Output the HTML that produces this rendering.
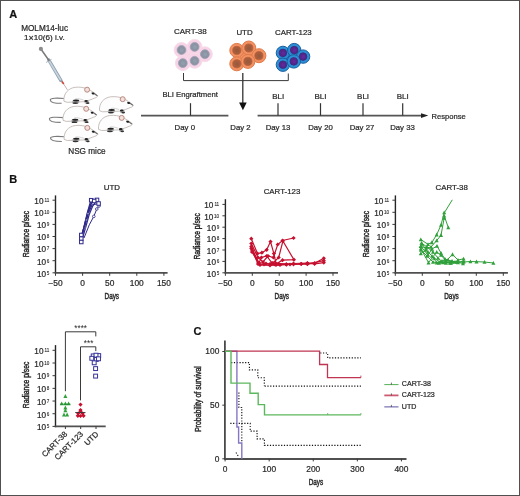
<!DOCTYPE html>
<html><head><meta charset="utf-8"><style>
html,body{margin:0;padding:0;background:#fff;}
svg{display:block;font-family:"Liberation Sans",sans-serif;-webkit-font-smoothing:antialiased;will-change:transform;}
text{stroke:#2a2a2a;stroke-width:0.22px;}
</style></head><body>
<svg width="520" height="496" viewBox="0 0 520 496">
<rect width="520" height="496" fill="#fff"/>
<rect x="0.5" y="0.5" width="519" height="495" fill="none" stroke="#505050" stroke-width="1"/>
<text x="9.20" y="17.60" font-size="11" text-anchor="start" font-weight="bold" fill="#111" >A</text>
<text x="44.60" y="30.90" font-size="8.2" text-anchor="middle" font-weight="normal" fill="#2a2a2a" >MOLM14-luc</text>
<text x="44.40" y="39.90" font-size="8.1" text-anchor="middle" font-weight="normal" fill="#2a2a2a" >1<tspan font-size="9" dy="1.2">×</tspan><tspan dy="-1.2">10(6) i.v.</tspan></text>
<g stroke-linecap="round">
<line x1="63.00" y1="83.00" x2="67.20" y2="89.50" stroke="#b09090" stroke-width="0.7" />
<line x1="60.60" y1="79.80" x2="63.40" y2="83.40" stroke="#d04838" stroke-width="1.7" />
<line x1="48.80" y1="60.00" x2="60.80" y2="80.30" stroke="#8fa0ae" stroke-width="3.4" />
<line x1="49.00" y1="60.60" x2="60.40" y2="79.60" stroke="#c6d4de" stroke-width="1.8" />
<line x1="46.40" y1="62.30" x2="51.20" y2="59.50" stroke="#a9b9c6" stroke-width="1.0" />
<line x1="40.90" y1="49.00" x2="49.00" y2="60.50" stroke="#7a7a7a" stroke-width="1.5" />
<circle cx="40.9" cy="48.9" r="2.1" fill="#8c8c8c"/>
</g>
<defs><path id="tail" d="M-22.5,8.8 C-30,8.2 -36.8,8.2 -36.8,10.2 C-36.8,12.6 -31,13.6 -25.5,13.6" fill="none" stroke="#7a7a7a" stroke-width="1.1"/>
<g id="mouse">
<path d="M-23.2,11.5 C-23.8,4 -19,-1.5 -12,-2.4 C-7,-3 -3,-2 0,-1 C4,1 8,3.5 10.5,5.8 C10.8,7.2 9,8 7.5,8.4 C5,9.5 1,11 -3,12 L-20,12.6 Z" fill="#fdfdfd" stroke="#c2b8b4" stroke-width="0.9"/>
<path d="M-12,9.3 C-9,8.3 -6,9.8 -3.5,10.3" fill="none" stroke="#c0c0c0" stroke-width="0.7"/>
<path d="M4.5,3.2 C7,3.8 9,5 10.3,6.2" fill="none" stroke="#666" stroke-width="1.1"/>
<ellipse cx="6" cy="3.9" rx="1.3" ry="1.0" fill="#1a1a1a"/>
<ellipse cx="-11.3" cy="12" rx="3.6" ry="1.9" fill="#b0b0b0"/>
<ellipse cx="-11.0" cy="10.9" rx="3.2" ry="1.0" fill="#222"/>
<ellipse cx="-11.8" cy="13.4" rx="2.9" ry="0.9" fill="#333"/>
<ellipse cx="-0.4" cy="12.2" rx="2.4" ry="1.9" fill="#b0b0b0"/>
<ellipse cx="-1.0" cy="11.3" rx="1.8" ry="1.1" fill="#222"/>
<ellipse cx="0.6" cy="13.4" rx="1.8" ry="0.9" fill="#333"/>
<circle cx="0" cy="0" r="2.5" fill="#f3e0dc" stroke="#b88a80" stroke-width="1"/>
</g></defs>
<use href="#mouse" x="122.7" y="99.2"/>
<use href="#mouse" x="121.7" y="117.9"/>
<use href="#tail" x="87.1" y="89.7"/>
<use href="#mouse" x="87.1" y="89.7"/>
<use href="#tail" x="86.2" y="108.8"/>
<use href="#mouse" x="86.2" y="108.8"/>
<use href="#tail" x="87.3" y="127.9"/>
<use href="#mouse" x="87.3" y="127.9"/>
<text x="86.90" y="153.50" font-size="8.2" text-anchor="middle" font-weight="normal" fill="#2a2a2a" >NSG mice</text>
<circle cx="191.68" cy="55.00" r="6.66" fill="#f8d2e5"/>
<circle cx="181.5" cy="50" r="7.4" fill="#f8d2e5" stroke="#f6dcea" stroke-width="1.0"/>
<circle cx="194.6" cy="46.9" r="7.4" fill="#f8d2e5" stroke="#f6dcea" stroke-width="1.0"/>
<circle cx="204.9" cy="54.2" r="7.4" fill="#f8d2e5" stroke="#f6dcea" stroke-width="1.0"/>
<circle cx="182.8" cy="63.1" r="7.4" fill="#f8d2e5" stroke="#f6dcea" stroke-width="1.0"/>
<circle cx="194.6" cy="60.8" r="7.4" fill="#f8d2e5" stroke="#f6dcea" stroke-width="1.0"/>
<circle cx="181.5" cy="50" r="4.4" fill="#8b93a4" stroke="#9aa0b0" stroke-width="0.8"/>
<circle cx="181.8" cy="50.2" r="1.9800000000000002" fill="#8f9eaa"/>
<circle cx="194.6" cy="46.9" r="4.4" fill="#8b93a4" stroke="#9aa0b0" stroke-width="0.8"/>
<circle cx="194.9" cy="47.1" r="1.9800000000000002" fill="#8f9eaa"/>
<circle cx="204.9" cy="54.2" r="4.4" fill="#8b93a4" stroke="#9aa0b0" stroke-width="0.8"/>
<circle cx="205.20000000000002" cy="54.400000000000006" r="1.9800000000000002" fill="#8f9eaa"/>
<circle cx="182.8" cy="63.1" r="4.4" fill="#8b93a4" stroke="#9aa0b0" stroke-width="0.8"/>
<circle cx="183.10000000000002" cy="63.300000000000004" r="1.9800000000000002" fill="#8f9eaa"/>
<circle cx="194.6" cy="60.8" r="4.4" fill="#8b93a4" stroke="#9aa0b0" stroke-width="0.8"/>
<circle cx="194.9" cy="61.0" r="1.9800000000000002" fill="#8f9eaa"/>
<circle cx="245.84" cy="55.86" r="6.30" fill="#f29262"/>
<circle cx="236.8" cy="50.4" r="7.0" fill="#f29262" stroke="#e07a4a" stroke-width="1.0"/>
<circle cx="248.8" cy="48.0" r="7.0" fill="#f29262" stroke="#e07a4a" stroke-width="1.0"/>
<circle cx="258.9" cy="55.7" r="7.0" fill="#f29262" stroke="#e07a4a" stroke-width="1.0"/>
<circle cx="236.8" cy="63.8" r="7.0" fill="#f29262" stroke="#e07a4a" stroke-width="1.0"/>
<circle cx="247.9" cy="61.4" r="7.0" fill="#f29262" stroke="#e07a4a" stroke-width="1.0"/>
<circle cx="236.8" cy="50.4" r="4.1" fill="#a65e3d" stroke="#bf5f3a" stroke-width="0.8"/>
<circle cx="237.10000000000002" cy="50.6" r="1.845" fill="#9a5a3e"/>
<circle cx="248.8" cy="48.0" r="4.1" fill="#a65e3d" stroke="#bf5f3a" stroke-width="0.8"/>
<circle cx="249.10000000000002" cy="48.2" r="1.845" fill="#9a5a3e"/>
<circle cx="258.9" cy="55.7" r="4.1" fill="#a65e3d" stroke="#bf5f3a" stroke-width="0.8"/>
<circle cx="259.2" cy="55.900000000000006" r="1.845" fill="#9a5a3e"/>
<circle cx="236.8" cy="63.8" r="4.1" fill="#a65e3d" stroke="#bf5f3a" stroke-width="0.8"/>
<circle cx="237.10000000000002" cy="64.0" r="1.845" fill="#9a5a3e"/>
<circle cx="247.9" cy="61.4" r="4.1" fill="#a65e3d" stroke="#bf5f3a" stroke-width="0.8"/>
<circle cx="248.20000000000002" cy="61.6" r="1.845" fill="#9a5a3e"/>
<circle cx="291.38" cy="57.14" r="6.03" fill="#2a8fd6"/>
<circle cx="282.9" cy="52.9" r="6.7" fill="#2a8fd6" stroke="#1a5f9c" stroke-width="1.0"/>
<circle cx="294.2" cy="50.1" r="6.7" fill="#2a8fd6" stroke="#1a5f9c" stroke-width="1.0"/>
<circle cx="303.1" cy="56.6" r="6.7" fill="#2a8fd6" stroke="#1a5f9c" stroke-width="1.0"/>
<circle cx="282.9" cy="64.7" r="6.7" fill="#2a8fd6" stroke="#1a5f9c" stroke-width="1.0"/>
<circle cx="293.8" cy="61.4" r="6.7" fill="#2a8fd6" stroke="#1a5f9c" stroke-width="1.0"/>
<circle cx="282.9" cy="52.9" r="3.8" fill="#55268c" stroke="#3a2a7a" stroke-width="0.8"/>
<circle cx="283.2" cy="53.1" r="1.71" fill="#62299a"/>
<circle cx="294.2" cy="50.1" r="3.8" fill="#55268c" stroke="#3a2a7a" stroke-width="0.8"/>
<circle cx="294.5" cy="50.300000000000004" r="1.71" fill="#62299a"/>
<circle cx="303.1" cy="56.6" r="3.8" fill="#55268c" stroke="#3a2a7a" stroke-width="0.8"/>
<circle cx="303.40000000000003" cy="56.800000000000004" r="1.71" fill="#62299a"/>
<circle cx="282.9" cy="64.7" r="3.8" fill="#55268c" stroke="#3a2a7a" stroke-width="0.8"/>
<circle cx="283.2" cy="64.9" r="1.71" fill="#62299a"/>
<circle cx="293.8" cy="61.4" r="3.8" fill="#55268c" stroke="#3a2a7a" stroke-width="0.8"/>
<circle cx="294.1" cy="61.6" r="1.71" fill="#62299a"/>
<text x="190.35" y="33.80" font-size="8.0" text-anchor="middle" font-weight="normal" fill="#2a2a2a" >CART-38</text>
<text x="244.50" y="35.20" font-size="7.9" text-anchor="middle" font-weight="normal" fill="#2a2a2a" >UTD</text>
<text x="293.40" y="35.20" font-size="7.9" text-anchor="middle" font-weight="normal" fill="#2a2a2a" >CART-123</text>
<polyline points="183.50,73.00 183.50,80.60 288.30,80.60 288.30,73.50" fill="none" stroke="#3a3a3a" stroke-width="1" />
<line x1="242.80" y1="73.00" x2="242.80" y2="104.00" stroke="#333" stroke-width="1.3" />
<path d="M239.1,102.6 L246.7,102.6 L242.9,110.2 Z" fill="#111"/>
<line x1="141.00" y1="115.60" x2="228.40" y2="115.60" stroke="#555" stroke-width="1.6" />
<line x1="257.60" y1="115.60" x2="423.00" y2="115.60" stroke="#555" stroke-width="1.6" />
<path d="M421,113.2 L428.3,115.6 L421,118.0 Z" fill="#222"/>
<line x1="190.50" y1="103.20" x2="190.50" y2="115.60" stroke="#333" stroke-width="1.2" />
<line x1="278.00" y1="103.20" x2="278.00" y2="115.60" stroke="#333" stroke-width="1.2" />
<line x1="320.50" y1="103.20" x2="320.50" y2="115.60" stroke="#333" stroke-width="1.2" />
<line x1="363.00" y1="103.20" x2="363.00" y2="115.60" stroke="#333" stroke-width="1.2" />
<line x1="402.70" y1="103.20" x2="402.70" y2="115.60" stroke="#333" stroke-width="1.2" />
<text x="190.20" y="97.30" font-size="7.7" text-anchor="middle" font-weight="normal" fill="#2a2a2a" >BLI Engraftment</text>
<text x="278.20" y="98.70" font-size="8.0" text-anchor="middle" font-weight="normal" fill="#2a2a2a" >BLI</text>
<text x="320.40" y="98.70" font-size="8.0" text-anchor="middle" font-weight="normal" fill="#2a2a2a" >BLI</text>
<text x="363.10" y="98.70" font-size="8.0" text-anchor="middle" font-weight="normal" fill="#2a2a2a" >BLI</text>
<text x="402.70" y="98.70" font-size="8.0" text-anchor="middle" font-weight="normal" fill="#2a2a2a" >BLI</text>
<text x="184.80" y="129.50" font-size="7.8" text-anchor="middle" font-weight="normal" fill="#2a2a2a" >Day 0</text>
<text x="240.50" y="129.50" font-size="7.8" text-anchor="middle" font-weight="normal" fill="#2a2a2a" >Day 2</text>
<text x="278.00" y="129.50" font-size="7.8" text-anchor="middle" font-weight="normal" fill="#2a2a2a" >Day 13</text>
<text x="320.50" y="129.50" font-size="7.8" text-anchor="middle" font-weight="normal" fill="#2a2a2a" >Day 20</text>
<text x="362.00" y="129.50" font-size="7.8" text-anchor="middle" font-weight="normal" fill="#2a2a2a" >Day 27</text>
<text x="402.50" y="129.50" font-size="7.8" text-anchor="middle" font-weight="normal" fill="#2a2a2a" >Day 33</text>
<text x="431.50" y="118.80" font-size="7.6" text-anchor="start" font-weight="normal" fill="#2a2a2a" >Response</text>
<text x="9.20" y="182.90" font-size="11" text-anchor="start" font-weight="bold" fill="#111" >B</text>
<line x1="55.50" y1="195.40" x2="55.50" y2="273.60" stroke="#262626" stroke-width="1.4" />
<line x1="54.80" y1="272.80" x2="167.60" y2="272.80" stroke="#505050" stroke-width="1.7" />
<line x1="52.50" y1="272.80" x2="55.50" y2="272.80" stroke="#3a3a3a" stroke-width="1" />
<text x="49.30" y="274.60" font-size="4.6" text-anchor="end" fill="#2a2a2a" style="stroke-width:0.1px">5</text>
<text x="46.04" y="276.60" font-size="8.2" text-anchor="end" fill="#2a2a2a">10</text>
<line x1="52.50" y1="260.70" x2="55.50" y2="260.70" stroke="#3a3a3a" stroke-width="1" />
<text x="49.30" y="262.50" font-size="4.6" text-anchor="end" fill="#2a2a2a" style="stroke-width:0.1px">6</text>
<text x="46.04" y="264.50" font-size="8.2" text-anchor="end" fill="#2a2a2a">10</text>
<line x1="52.50" y1="248.60" x2="55.50" y2="248.60" stroke="#3a3a3a" stroke-width="1" />
<text x="49.30" y="250.40" font-size="4.6" text-anchor="end" fill="#2a2a2a" style="stroke-width:0.1px">7</text>
<text x="46.04" y="252.40" font-size="8.2" text-anchor="end" fill="#2a2a2a">10</text>
<line x1="52.50" y1="236.50" x2="55.50" y2="236.50" stroke="#3a3a3a" stroke-width="1" />
<text x="49.30" y="238.30" font-size="4.6" text-anchor="end" fill="#2a2a2a" style="stroke-width:0.1px">8</text>
<text x="46.04" y="240.30" font-size="8.2" text-anchor="end" fill="#2a2a2a">10</text>
<line x1="52.50" y1="224.40" x2="55.50" y2="224.40" stroke="#3a3a3a" stroke-width="1" />
<text x="49.30" y="226.20" font-size="4.6" text-anchor="end" fill="#2a2a2a" style="stroke-width:0.1px">9</text>
<text x="46.04" y="228.20" font-size="8.2" text-anchor="end" fill="#2a2a2a">10</text>
<line x1="52.50" y1="212.30" x2="55.50" y2="212.30" stroke="#3a3a3a" stroke-width="1" />
<text x="49.30" y="214.10" font-size="4.6" text-anchor="end" fill="#2a2a2a" style="stroke-width:0.1px">10</text>
<text x="43.48" y="216.10" font-size="8.2" text-anchor="end" fill="#2a2a2a">10</text>
<line x1="52.50" y1="200.20" x2="55.50" y2="200.20" stroke="#3a3a3a" stroke-width="1" />
<text x="49.30" y="202.00" font-size="4.6" text-anchor="end" fill="#2a2a2a" style="stroke-width:0.1px">11</text>
<text x="43.48" y="204.00" font-size="8.2" text-anchor="end" fill="#2a2a2a">10</text>
<line x1="55.50" y1="272.80" x2="55.50" y2="275.80" stroke="#3a3a3a" stroke-width="1" />
<text x="55.50" y="285.80" font-size="8.4" text-anchor="middle" font-weight="normal" fill="#2a2a2a" >−50</text>
<line x1="82.60" y1="272.80" x2="82.60" y2="275.80" stroke="#3a3a3a" stroke-width="1" />
<text x="82.60" y="285.80" font-size="8.4" text-anchor="middle" font-weight="normal" fill="#2a2a2a" >0</text>
<line x1="109.70" y1="272.80" x2="109.70" y2="275.80" stroke="#3a3a3a" stroke-width="1" />
<text x="109.70" y="285.80" font-size="8.4" text-anchor="middle" font-weight="normal" fill="#2a2a2a" >50</text>
<line x1="136.80" y1="272.80" x2="136.80" y2="275.80" stroke="#3a3a3a" stroke-width="1" />
<text x="136.80" y="285.80" font-size="8.4" text-anchor="middle" font-weight="normal" fill="#2a2a2a" >100</text>
<line x1="163.90" y1="272.80" x2="163.90" y2="275.80" stroke="#3a3a3a" stroke-width="1" />
<text x="163.90" y="285.80" font-size="8.4" text-anchor="middle" font-weight="normal" fill="#2a2a2a" >150</text>
<text x="111.85" y="189.80" font-size="7.9" text-anchor="middle" font-weight="normal" fill="#2a2a2a" >UTD</text>
<text transform="translate(28.90,234.10) rotate(-90)" font-size="8.6" text-anchor="middle" fill="#2a2a2a" textLength="46.5" lengthAdjust="spacingAndGlyphs" style="stroke-width:0.45px">Radiance p/sec</text>
<text x="111.80" y="298.6" font-size="8.8" text-anchor="middle" fill="#2a2a2a" textLength="14.5" lengthAdjust="spacingAndGlyphs" style="stroke-width:0.45px">Days</text>
<line x1="225.40" y1="199.20" x2="225.40" y2="273.60" stroke="#262626" stroke-width="1.4" />
<line x1="224.70" y1="272.80" x2="338.00" y2="272.80" stroke="#505050" stroke-width="1.7" />
<line x1="222.40" y1="272.80" x2="225.40" y2="272.80" stroke="#3a3a3a" stroke-width="1" />
<text x="219.20" y="274.60" font-size="4.6" text-anchor="end" fill="#2a2a2a" style="stroke-width:0.1px">5</text>
<text x="215.94" y="276.60" font-size="8.2" text-anchor="end" fill="#2a2a2a">10</text>
<line x1="222.40" y1="261.40" x2="225.40" y2="261.40" stroke="#3a3a3a" stroke-width="1" />
<text x="219.20" y="263.20" font-size="4.6" text-anchor="end" fill="#2a2a2a" style="stroke-width:0.1px">6</text>
<text x="215.94" y="265.20" font-size="8.2" text-anchor="end" fill="#2a2a2a">10</text>
<line x1="222.40" y1="250.00" x2="225.40" y2="250.00" stroke="#3a3a3a" stroke-width="1" />
<text x="219.20" y="251.80" font-size="4.6" text-anchor="end" fill="#2a2a2a" style="stroke-width:0.1px">7</text>
<text x="215.94" y="253.80" font-size="8.2" text-anchor="end" fill="#2a2a2a">10</text>
<line x1="222.40" y1="238.60" x2="225.40" y2="238.60" stroke="#3a3a3a" stroke-width="1" />
<text x="219.20" y="240.40" font-size="4.6" text-anchor="end" fill="#2a2a2a" style="stroke-width:0.1px">8</text>
<text x="215.94" y="242.40" font-size="8.2" text-anchor="end" fill="#2a2a2a">10</text>
<line x1="222.40" y1="227.20" x2="225.40" y2="227.20" stroke="#3a3a3a" stroke-width="1" />
<text x="219.20" y="229.00" font-size="4.6" text-anchor="end" fill="#2a2a2a" style="stroke-width:0.1px">9</text>
<text x="215.94" y="231.00" font-size="8.2" text-anchor="end" fill="#2a2a2a">10</text>
<line x1="222.40" y1="215.80" x2="225.40" y2="215.80" stroke="#3a3a3a" stroke-width="1" />
<text x="219.20" y="217.60" font-size="4.6" text-anchor="end" fill="#2a2a2a" style="stroke-width:0.1px">10</text>
<text x="213.38" y="219.60" font-size="8.2" text-anchor="end" fill="#2a2a2a">10</text>
<line x1="222.40" y1="204.40" x2="225.40" y2="204.40" stroke="#3a3a3a" stroke-width="1" />
<text x="219.20" y="206.20" font-size="4.6" text-anchor="end" fill="#2a2a2a" style="stroke-width:0.1px">11</text>
<text x="213.38" y="208.20" font-size="8.2" text-anchor="end" fill="#2a2a2a">10</text>
<line x1="225.40" y1="272.80" x2="225.40" y2="275.80" stroke="#3a3a3a" stroke-width="1" />
<text x="225.40" y="285.80" font-size="8.4" text-anchor="middle" font-weight="normal" fill="#2a2a2a" >−50</text>
<line x1="252.30" y1="272.80" x2="252.30" y2="275.80" stroke="#3a3a3a" stroke-width="1" />
<text x="252.30" y="285.80" font-size="8.4" text-anchor="middle" font-weight="normal" fill="#2a2a2a" >0</text>
<line x1="279.20" y1="272.80" x2="279.20" y2="275.80" stroke="#3a3a3a" stroke-width="1" />
<text x="279.20" y="285.80" font-size="8.4" text-anchor="middle" font-weight="normal" fill="#2a2a2a" >50</text>
<line x1="306.10" y1="272.80" x2="306.10" y2="275.80" stroke="#3a3a3a" stroke-width="1" />
<text x="306.10" y="285.80" font-size="8.4" text-anchor="middle" font-weight="normal" fill="#2a2a2a" >100</text>
<line x1="333.00" y1="272.80" x2="333.00" y2="275.80" stroke="#3a3a3a" stroke-width="1" />
<text x="333.00" y="285.80" font-size="8.4" text-anchor="middle" font-weight="normal" fill="#2a2a2a" >150</text>
<text x="282.00" y="193.70" font-size="7.9" text-anchor="middle" font-weight="normal" fill="#2a2a2a" >CART-123</text>
<text transform="translate(199.70,236.30) rotate(-90)" font-size="8.6" text-anchor="middle" fill="#2a2a2a" textLength="46.5" lengthAdjust="spacingAndGlyphs" style="stroke-width:0.45px">Radiance p/sec</text>
<text x="281.80" y="298.6" font-size="8.8" text-anchor="middle" fill="#2a2a2a" textLength="14.5" lengthAdjust="spacingAndGlyphs" style="stroke-width:0.45px">Days</text>
<line x1="395.40" y1="195.40" x2="395.40" y2="273.60" stroke="#262626" stroke-width="1.4" />
<line x1="394.70" y1="272.80" x2="507.90" y2="272.80" stroke="#505050" stroke-width="1.7" />
<line x1="392.40" y1="272.80" x2="395.40" y2="272.80" stroke="#3a3a3a" stroke-width="1" />
<text x="389.20" y="274.60" font-size="4.6" text-anchor="end" fill="#2a2a2a" style="stroke-width:0.1px">5</text>
<text x="385.94" y="276.60" font-size="8.2" text-anchor="end" fill="#2a2a2a">10</text>
<line x1="392.40" y1="260.70" x2="395.40" y2="260.70" stroke="#3a3a3a" stroke-width="1" />
<text x="389.20" y="262.50" font-size="4.6" text-anchor="end" fill="#2a2a2a" style="stroke-width:0.1px">6</text>
<text x="385.94" y="264.50" font-size="8.2" text-anchor="end" fill="#2a2a2a">10</text>
<line x1="392.40" y1="248.60" x2="395.40" y2="248.60" stroke="#3a3a3a" stroke-width="1" />
<text x="389.20" y="250.40" font-size="4.6" text-anchor="end" fill="#2a2a2a" style="stroke-width:0.1px">7</text>
<text x="385.94" y="252.40" font-size="8.2" text-anchor="end" fill="#2a2a2a">10</text>
<line x1="392.40" y1="236.50" x2="395.40" y2="236.50" stroke="#3a3a3a" stroke-width="1" />
<text x="389.20" y="238.30" font-size="4.6" text-anchor="end" fill="#2a2a2a" style="stroke-width:0.1px">8</text>
<text x="385.94" y="240.30" font-size="8.2" text-anchor="end" fill="#2a2a2a">10</text>
<line x1="392.40" y1="224.40" x2="395.40" y2="224.40" stroke="#3a3a3a" stroke-width="1" />
<text x="389.20" y="226.20" font-size="4.6" text-anchor="end" fill="#2a2a2a" style="stroke-width:0.1px">9</text>
<text x="385.94" y="228.20" font-size="8.2" text-anchor="end" fill="#2a2a2a">10</text>
<line x1="392.40" y1="212.30" x2="395.40" y2="212.30" stroke="#3a3a3a" stroke-width="1" />
<text x="389.20" y="214.10" font-size="4.6" text-anchor="end" fill="#2a2a2a" style="stroke-width:0.1px">10</text>
<text x="383.38" y="216.10" font-size="8.2" text-anchor="end" fill="#2a2a2a">10</text>
<line x1="392.40" y1="200.20" x2="395.40" y2="200.20" stroke="#3a3a3a" stroke-width="1" />
<text x="389.20" y="202.00" font-size="4.6" text-anchor="end" fill="#2a2a2a" style="stroke-width:0.1px">11</text>
<text x="383.38" y="204.00" font-size="8.2" text-anchor="end" fill="#2a2a2a">10</text>
<line x1="395.30" y1="272.80" x2="395.30" y2="275.80" stroke="#3a3a3a" stroke-width="1" />
<text x="395.30" y="285.80" font-size="8.4" text-anchor="middle" font-weight="normal" fill="#2a2a2a" >−50</text>
<line x1="422.30" y1="272.80" x2="422.30" y2="275.80" stroke="#3a3a3a" stroke-width="1" />
<text x="422.30" y="285.80" font-size="8.4" text-anchor="middle" font-weight="normal" fill="#2a2a2a" >0</text>
<line x1="449.30" y1="272.80" x2="449.30" y2="275.80" stroke="#3a3a3a" stroke-width="1" />
<text x="449.30" y="285.80" font-size="8.4" text-anchor="middle" font-weight="normal" fill="#2a2a2a" >50</text>
<line x1="476.30" y1="272.80" x2="476.30" y2="275.80" stroke="#3a3a3a" stroke-width="1" />
<text x="476.30" y="285.80" font-size="8.4" text-anchor="middle" font-weight="normal" fill="#2a2a2a" >100</text>
<line x1="503.30" y1="272.80" x2="503.30" y2="275.80" stroke="#3a3a3a" stroke-width="1" />
<text x="503.30" y="285.80" font-size="8.4" text-anchor="middle" font-weight="normal" fill="#2a2a2a" >150</text>
<text x="451.75" y="189.80" font-size="7.9" text-anchor="middle" font-weight="normal" fill="#2a2a2a" >CART-38</text>
<text transform="translate(368.90,234.10) rotate(-90)" font-size="8.6" text-anchor="middle" fill="#2a2a2a" textLength="46.5" lengthAdjust="spacingAndGlyphs" style="stroke-width:0.45px">Radiance p/sec</text>
<text x="451.50" y="298.6" font-size="8.8" text-anchor="middle" fill="#2a2a2a" textLength="14.5" lengthAdjust="spacingAndGlyphs" style="stroke-width:0.45px">Days</text>
<polyline points="80.80,241.50 84.60,224.00 87.40,212.50 89.80,204.00 91.20,200.20" fill="none" stroke="#2f2a8a" stroke-width="1.2" />
<polyline points="81.20,238.50 85.20,222.50 88.00,211.50 90.80,203.50 94.20,201.00" fill="none" stroke="#2f2a8a" stroke-width="1.2" />
<polyline points="81.60,235.00 85.80,221.50 88.70,210.50 91.60,203.00 97.00,199.90" fill="none" stroke="#2f2a8a" stroke-width="1.2" />
<polyline points="81.40,236.50 85.50,223.50 88.60,212.80 92.00,205.00 98.60,203.50" fill="none" stroke="#2f2a8a" stroke-width="1.2" />
<polyline points="82.00,240.00 86.20,225.50 89.20,214.50 92.50,206.50 97.00,199.90" fill="none" stroke="#2f2a8a" stroke-width="1.2" />
<polyline points="84.00,238.00 89.30,224.80 93.80,216.40 96.80,209.00 99.00,206.00" fill="none" stroke="#2f2a8a" stroke-width="1.0" />
<circle cx="93.8" cy="216.4" r="1.3" fill="#fff" stroke="#2f2a8a" stroke-width="0.8"/>
<circle cx="96.8" cy="209.0" r="1.3" fill="#fff" stroke="#2f2a8a" stroke-width="0.8"/>
<circle cx="99.0" cy="206.0" r="1.3" fill="#fff" stroke="#2f2a8a" stroke-width="0.8"/>
<rect x="79.55" y="233.25" width="3.5" height="3.5" fill="#fff" stroke="#2f2a8a" stroke-width="1.0"/>
<rect x="79.55" y="236.85" width="3.5" height="3.5" fill="#fff" stroke="#2f2a8a" stroke-width="1.0"/>
<rect x="79.55" y="240.25" width="3.5" height="3.5" fill="#fff" stroke="#2f2a8a" stroke-width="1.0"/>
<rect x="89.45" y="198.45" width="3.5" height="3.5" fill="#fff" stroke="#2f2a8a" stroke-width="1.0"/>
<rect x="95.25" y="198.15" width="3.5" height="3.5" fill="#fff" stroke="#2f2a8a" stroke-width="1.0"/>
<rect x="92.45" y="199.25" width="3.5" height="3.5" fill="#fff" stroke="#2f2a8a" stroke-width="1.0"/>
<rect x="96.85" y="201.75" width="3.5" height="3.5" fill="#fff" stroke="#2f2a8a" stroke-width="1.0"/>
<rect x="85.50" y="219.20" width="1.6" height="1.6" fill="#fff" stroke="#2f2a8a" stroke-width="0.5"/>
<rect x="87.20" y="212.70" width="1.6" height="1.6" fill="#fff" stroke="#2f2a8a" stroke-width="0.5"/>
<rect x="84.00" y="227.20" width="1.6" height="1.6" fill="#fff" stroke="#2f2a8a" stroke-width="0.5"/>
<polyline points="251.30,238.70 257.50,253.60 261.90,252.70 266.70,249.80 270.50,241.60 273.90,253.60 276.00,263.50 286.30,264.50" fill="none" stroke="#c5102f" stroke-width="1.2" />
<polyline points="251.30,243.50 258.00,257.50 263.00,262.00 268.00,256.00 273.40,257.50 277.70,244.50 282.50,240.50 293.60,238.00" fill="none" stroke="#c5102f" stroke-width="1.2" />
<polyline points="251.30,246.40 258.50,262.80 266.00,263.50 275.00,264.50 282.50,260.20 293.90,259.70 282.90,241.00 278.70,257.50 273.00,263.00 286.30,264.30" fill="none" stroke="#c5102f" stroke-width="1.2" />
<polyline points="251.30,248.30 258.00,264.00 264.00,264.50 270.00,264.00 276.00,265.00 286.30,264.50 293.50,264.30 301.20,263.80 307.40,263.50 314.60,263.80 323.80,262.60" fill="none" stroke="#c5102f" stroke-width="1.2" />
<polyline points="252.00,250.00 259.00,263.00 261.40,257.50 266.70,256.00 272.00,263.00 279.00,264.00 293.50,263.50 307.40,263.00 314.60,263.20 323.80,258.30" fill="none" stroke="#c5102f" stroke-width="1.2" />
<polyline points="252.00,252.00 260.00,265.00 270.00,265.50 280.00,265.00 290.00,264.50 301.20,264.00 307.40,264.20 323.80,260.70" fill="none" stroke="#c5102f" stroke-width="1.2" />
<path d="M251.30,236.60 L253.40,238.70 L251.30,240.80 L249.20,238.70 Z" fill="#c5102f"/>
<path d="M257.50,251.50 L259.60,253.60 L257.50,255.70 L255.40,253.60 Z" fill="#c5102f"/>
<path d="M261.90,250.60 L264.00,252.70 L261.90,254.80 L259.80,252.70 Z" fill="#c5102f"/>
<path d="M266.70,247.70 L268.80,249.80 L266.70,251.90 L264.60,249.80 Z" fill="#c5102f"/>
<path d="M270.50,239.50 L272.60,241.60 L270.50,243.70 L268.40,241.60 Z" fill="#c5102f"/>
<path d="M273.90,251.50 L276.00,253.60 L273.90,255.70 L271.80,253.60 Z" fill="#c5102f"/>
<path d="M276.00,261.40 L278.10,263.50 L276.00,265.60 L273.90,263.50 Z" fill="#c5102f"/>
<path d="M286.30,262.40 L288.40,264.50 L286.30,266.60 L284.20,264.50 Z" fill="#c5102f"/>
<path d="M251.30,241.40 L253.40,243.50 L251.30,245.60 L249.20,243.50 Z" fill="#c5102f"/>
<path d="M258.00,255.40 L260.10,257.50 L258.00,259.60 L255.90,257.50 Z" fill="#c5102f"/>
<path d="M263.00,259.90 L265.10,262.00 L263.00,264.10 L260.90,262.00 Z" fill="#c5102f"/>
<path d="M268.00,253.90 L270.10,256.00 L268.00,258.10 L265.90,256.00 Z" fill="#c5102f"/>
<path d="M273.40,255.40 L275.50,257.50 L273.40,259.60 L271.30,257.50 Z" fill="#c5102f"/>
<path d="M277.70,242.40 L279.80,244.50 L277.70,246.60 L275.60,244.50 Z" fill="#c5102f"/>
<path d="M282.50,238.40 L284.60,240.50 L282.50,242.60 L280.40,240.50 Z" fill="#c5102f"/>
<path d="M293.60,235.90 L295.70,238.00 L293.60,240.10 L291.50,238.00 Z" fill="#c5102f"/>
<path d="M251.30,244.30 L253.40,246.40 L251.30,248.50 L249.20,246.40 Z" fill="#c5102f"/>
<path d="M258.50,260.70 L260.60,262.80 L258.50,264.90 L256.40,262.80 Z" fill="#c5102f"/>
<path d="M266.00,261.40 L268.10,263.50 L266.00,265.60 L263.90,263.50 Z" fill="#c5102f"/>
<path d="M275.00,262.40 L277.10,264.50 L275.00,266.60 L272.90,264.50 Z" fill="#c5102f"/>
<path d="M282.50,258.10 L284.60,260.20 L282.50,262.30 L280.40,260.20 Z" fill="#c5102f"/>
<path d="M293.90,257.60 L296.00,259.70 L293.90,261.80 L291.80,259.70 Z" fill="#c5102f"/>
<path d="M282.90,238.90 L285.00,241.00 L282.90,243.10 L280.80,241.00 Z" fill="#c5102f"/>
<path d="M278.70,255.40 L280.80,257.50 L278.70,259.60 L276.60,257.50 Z" fill="#c5102f"/>
<path d="M273.00,260.90 L275.10,263.00 L273.00,265.10 L270.90,263.00 Z" fill="#c5102f"/>
<path d="M286.30,262.20 L288.40,264.30 L286.30,266.40 L284.20,264.30 Z" fill="#c5102f"/>
<path d="M251.30,246.20 L253.40,248.30 L251.30,250.40 L249.20,248.30 Z" fill="#c5102f"/>
<path d="M258.00,261.90 L260.10,264.00 L258.00,266.10 L255.90,264.00 Z" fill="#c5102f"/>
<path d="M264.00,262.40 L266.10,264.50 L264.00,266.60 L261.90,264.50 Z" fill="#c5102f"/>
<path d="M270.00,261.90 L272.10,264.00 L270.00,266.10 L267.90,264.00 Z" fill="#c5102f"/>
<path d="M276.00,262.90 L278.10,265.00 L276.00,267.10 L273.90,265.00 Z" fill="#c5102f"/>
<path d="M286.30,262.40 L288.40,264.50 L286.30,266.60 L284.20,264.50 Z" fill="#c5102f"/>
<path d="M293.50,262.20 L295.60,264.30 L293.50,266.40 L291.40,264.30 Z" fill="#c5102f"/>
<path d="M301.20,261.70 L303.30,263.80 L301.20,265.90 L299.10,263.80 Z" fill="#c5102f"/>
<path d="M307.40,261.40 L309.50,263.50 L307.40,265.60 L305.30,263.50 Z" fill="#c5102f"/>
<path d="M314.60,261.70 L316.70,263.80 L314.60,265.90 L312.50,263.80 Z" fill="#c5102f"/>
<path d="M323.80,260.50 L325.90,262.60 L323.80,264.70 L321.70,262.60 Z" fill="#c5102f"/>
<path d="M252.00,247.90 L254.10,250.00 L252.00,252.10 L249.90,250.00 Z" fill="#c5102f"/>
<path d="M259.00,260.90 L261.10,263.00 L259.00,265.10 L256.90,263.00 Z" fill="#c5102f"/>
<path d="M261.40,255.40 L263.50,257.50 L261.40,259.60 L259.30,257.50 Z" fill="#c5102f"/>
<path d="M266.70,253.90 L268.80,256.00 L266.70,258.10 L264.60,256.00 Z" fill="#c5102f"/>
<path d="M272.00,260.90 L274.10,263.00 L272.00,265.10 L269.90,263.00 Z" fill="#c5102f"/>
<path d="M279.00,261.90 L281.10,264.00 L279.00,266.10 L276.90,264.00 Z" fill="#c5102f"/>
<path d="M293.50,261.40 L295.60,263.50 L293.50,265.60 L291.40,263.50 Z" fill="#c5102f"/>
<path d="M307.40,260.90 L309.50,263.00 L307.40,265.10 L305.30,263.00 Z" fill="#c5102f"/>
<path d="M314.60,261.10 L316.70,263.20 L314.60,265.30 L312.50,263.20 Z" fill="#c5102f"/>
<path d="M323.80,256.20 L325.90,258.30 L323.80,260.40 L321.70,258.30 Z" fill="#c5102f"/>
<path d="M252.00,249.90 L254.10,252.00 L252.00,254.10 L249.90,252.00 Z" fill="#c5102f"/>
<path d="M260.00,262.90 L262.10,265.00 L260.00,267.10 L257.90,265.00 Z" fill="#c5102f"/>
<path d="M270.00,263.40 L272.10,265.50 L270.00,267.60 L267.90,265.50 Z" fill="#c5102f"/>
<path d="M280.00,262.90 L282.10,265.00 L280.00,267.10 L277.90,265.00 Z" fill="#c5102f"/>
<path d="M290.00,262.40 L292.10,264.50 L290.00,266.60 L287.90,264.50 Z" fill="#c5102f"/>
<path d="M301.20,261.90 L303.30,264.00 L301.20,266.10 L299.10,264.00 Z" fill="#c5102f"/>
<path d="M307.40,262.10 L309.50,264.20 L307.40,266.30 L305.30,264.20 Z" fill="#c5102f"/>
<path d="M323.80,258.60 L325.90,260.70 L323.80,262.80 L321.70,260.70 Z" fill="#c5102f"/>
<polyline points="420.80,239.50 428.00,244.30 431.90,242.40 436.70,234.70 441.00,225.00 444.20,212.50" fill="none" stroke="#30a03a" stroke-width="1.0" />
<polyline points="420.80,246.30 426.00,248.00 431.00,247.00 436.70,240.50 441.00,235.20 444.20,218.00" fill="none" stroke="#30a03a" stroke-width="1.0" />
<polyline points="444.20,215.80 448.30,227.50" fill="none" stroke="#30a03a" stroke-width="1.0" />
<polyline points="420.80,248.70 428.50,262.60 436.70,252.00 441.00,255.00 446.00,261.00 452.50,254.40 458.00,260.00 463.60,258.80" fill="none" stroke="#30a03a" stroke-width="1.0" />
<polyline points="420.80,253.50 426.00,250.00 432.00,256.00 436.70,262.60 442.00,261.00 448.00,260.00 455.00,262.00 463.60,262.00 470.40,261.50 476.50,261.70 484.50,262.00 493.40,263.00" fill="none" stroke="#30a03a" stroke-width="1.0" />
<polyline points="422.00,244.00 428.00,252.00 434.00,258.00 440.00,262.00 446.00,263.00 452.00,261.00 458.00,262.50 463.60,261.00" fill="none" stroke="#30a03a" stroke-width="1.0" />
<polyline points="421.00,250.00 427.00,256.00 433.00,262.00 439.00,263.00 445.00,262.00 451.00,263.00 457.00,262.00 463.00,263.50" fill="none" stroke="#30a03a" stroke-width="1.0" />
<polyline points="420.80,246.30 428.00,255.00 432.00,249.00 437.00,246.00 441.00,253.00 445.00,259.00 452.00,262.00" fill="none" stroke="#30a03a" stroke-width="1.0" />
<polyline points="421.50,243.00 427.00,247.00 433.00,252.00 438.00,258.00 443.00,262.50 450.00,263.00" fill="none" stroke="#30a03a" stroke-width="1.0" />
<line x1="444.20" y1="213.00" x2="452.30" y2="199.80" stroke="#30a03a" stroke-width="1.0" />
<path d="M420.80,237.40 L422.80,241.30 L418.80,241.30 Z" fill="#30a03a"/>
<path d="M428.00,242.20 L430.00,246.10 L426.00,246.10 Z" fill="#30a03a"/>
<path d="M431.90,240.30 L433.90,244.20 L429.90,244.20 Z" fill="#30a03a"/>
<path d="M436.70,232.60 L438.70,236.50 L434.70,236.50 Z" fill="#30a03a"/>
<path d="M441.00,222.90 L443.00,226.80 L439.00,226.80 Z" fill="#30a03a"/>
<path d="M444.20,210.40 L446.20,214.30 L442.20,214.30 Z" fill="#30a03a"/>
<path d="M420.80,244.20 L422.80,248.10 L418.80,248.10 Z" fill="#30a03a"/>
<path d="M426.00,245.90 L428.00,249.80 L424.00,249.80 Z" fill="#30a03a"/>
<path d="M431.00,244.90 L433.00,248.80 L429.00,248.80 Z" fill="#30a03a"/>
<path d="M436.70,238.40 L438.70,242.30 L434.70,242.30 Z" fill="#30a03a"/>
<path d="M441.00,233.10 L443.00,237.00 L439.00,237.00 Z" fill="#30a03a"/>
<path d="M444.20,215.90 L446.20,219.80 L442.20,219.80 Z" fill="#30a03a"/>
<path d="M444.20,213.70 L446.20,217.60 L442.20,217.60 Z" fill="#30a03a"/>
<path d="M448.30,225.40 L450.30,229.30 L446.30,229.30 Z" fill="#30a03a"/>
<path d="M420.80,246.60 L422.80,250.50 L418.80,250.50 Z" fill="#30a03a"/>
<path d="M428.50,260.50 L430.50,264.40 L426.50,264.40 Z" fill="#30a03a"/>
<path d="M436.70,249.90 L438.70,253.80 L434.70,253.80 Z" fill="#30a03a"/>
<path d="M441.00,252.90 L443.00,256.80 L439.00,256.80 Z" fill="#30a03a"/>
<path d="M446.00,258.90 L448.00,262.80 L444.00,262.80 Z" fill="#30a03a"/>
<path d="M452.50,252.30 L454.50,256.20 L450.50,256.20 Z" fill="#30a03a"/>
<path d="M458.00,257.90 L460.00,261.80 L456.00,261.80 Z" fill="#30a03a"/>
<path d="M463.60,256.70 L465.60,260.60 L461.60,260.60 Z" fill="#30a03a"/>
<path d="M420.80,251.40 L422.80,255.30 L418.80,255.30 Z" fill="#30a03a"/>
<path d="M426.00,247.90 L428.00,251.80 L424.00,251.80 Z" fill="#30a03a"/>
<path d="M432.00,253.90 L434.00,257.80 L430.00,257.80 Z" fill="#30a03a"/>
<path d="M436.70,260.50 L438.70,264.40 L434.70,264.40 Z" fill="#30a03a"/>
<path d="M442.00,258.90 L444.00,262.80 L440.00,262.80 Z" fill="#30a03a"/>
<path d="M448.00,257.90 L450.00,261.80 L446.00,261.80 Z" fill="#30a03a"/>
<path d="M455.00,259.90 L457.00,263.80 L453.00,263.80 Z" fill="#30a03a"/>
<path d="M463.60,259.90 L465.60,263.80 L461.60,263.80 Z" fill="#30a03a"/>
<path d="M470.40,259.40 L472.40,263.30 L468.40,263.30 Z" fill="#30a03a"/>
<path d="M476.50,259.60 L478.50,263.50 L474.50,263.50 Z" fill="#30a03a"/>
<path d="M484.50,259.90 L486.50,263.80 L482.50,263.80 Z" fill="#30a03a"/>
<path d="M493.40,260.90 L495.40,264.80 L491.40,264.80 Z" fill="#30a03a"/>
<path d="M422.00,241.90 L424.00,245.80 L420.00,245.80 Z" fill="#30a03a"/>
<path d="M428.00,249.90 L430.00,253.80 L426.00,253.80 Z" fill="#30a03a"/>
<path d="M434.00,255.90 L436.00,259.80 L432.00,259.80 Z" fill="#30a03a"/>
<path d="M440.00,259.90 L442.00,263.80 L438.00,263.80 Z" fill="#30a03a"/>
<path d="M446.00,260.90 L448.00,264.80 L444.00,264.80 Z" fill="#30a03a"/>
<path d="M452.00,258.90 L454.00,262.80 L450.00,262.80 Z" fill="#30a03a"/>
<path d="M458.00,260.40 L460.00,264.30 L456.00,264.30 Z" fill="#30a03a"/>
<path d="M463.60,258.90 L465.60,262.80 L461.60,262.80 Z" fill="#30a03a"/>
<path d="M421.00,247.90 L423.00,251.80 L419.00,251.80 Z" fill="#30a03a"/>
<path d="M427.00,253.90 L429.00,257.80 L425.00,257.80 Z" fill="#30a03a"/>
<path d="M433.00,259.90 L435.00,263.80 L431.00,263.80 Z" fill="#30a03a"/>
<path d="M439.00,260.90 L441.00,264.80 L437.00,264.80 Z" fill="#30a03a"/>
<path d="M445.00,259.90 L447.00,263.80 L443.00,263.80 Z" fill="#30a03a"/>
<path d="M451.00,260.90 L453.00,264.80 L449.00,264.80 Z" fill="#30a03a"/>
<path d="M457.00,259.90 L459.00,263.80 L455.00,263.80 Z" fill="#30a03a"/>
<path d="M463.00,261.40 L465.00,265.30 L461.00,265.30 Z" fill="#30a03a"/>
<path d="M420.80,244.20 L422.80,248.10 L418.80,248.10 Z" fill="#30a03a"/>
<path d="M428.00,252.90 L430.00,256.80 L426.00,256.80 Z" fill="#30a03a"/>
<path d="M432.00,246.90 L434.00,250.80 L430.00,250.80 Z" fill="#30a03a"/>
<path d="M437.00,243.90 L439.00,247.80 L435.00,247.80 Z" fill="#30a03a"/>
<path d="M441.00,250.90 L443.00,254.80 L439.00,254.80 Z" fill="#30a03a"/>
<path d="M445.00,256.90 L447.00,260.80 L443.00,260.80 Z" fill="#30a03a"/>
<path d="M452.00,259.90 L454.00,263.80 L450.00,263.80 Z" fill="#30a03a"/>
<path d="M421.50,240.90 L423.50,244.80 L419.50,244.80 Z" fill="#30a03a"/>
<path d="M427.00,244.90 L429.00,248.80 L425.00,248.80 Z" fill="#30a03a"/>
<path d="M433.00,249.90 L435.00,253.80 L431.00,253.80 Z" fill="#30a03a"/>
<path d="M438.00,255.90 L440.00,259.80 L436.00,259.80 Z" fill="#30a03a"/>
<path d="M443.00,260.40 L445.00,264.30 L441.00,264.30 Z" fill="#30a03a"/>
<path d="M450.00,260.90 L452.00,264.80 L448.00,264.80 Z" fill="#30a03a"/>
<line x1="55.50" y1="345.10" x2="55.50" y2="427.20" stroke="#262626" stroke-width="1.4" />
<line x1="54.80" y1="426.40" x2="105.70" y2="426.40" stroke="#505050" stroke-width="1.7" />
<line x1="52.50" y1="426.40" x2="55.50" y2="426.40" stroke="#3a3a3a" stroke-width="1" />
<text x="49.30" y="428.20" font-size="4.6" text-anchor="end" fill="#2a2a2a" style="stroke-width:0.1px">5</text>
<text x="46.04" y="430.20" font-size="8.2" text-anchor="end" fill="#2a2a2a">10</text>
<line x1="52.50" y1="413.72" x2="55.50" y2="413.72" stroke="#3a3a3a" stroke-width="1" />
<text x="49.30" y="415.52" font-size="4.6" text-anchor="end" fill="#2a2a2a" style="stroke-width:0.1px">6</text>
<text x="46.04" y="417.52" font-size="8.2" text-anchor="end" fill="#2a2a2a">10</text>
<line x1="52.50" y1="401.04" x2="55.50" y2="401.04" stroke="#3a3a3a" stroke-width="1" />
<text x="49.30" y="402.84" font-size="4.6" text-anchor="end" fill="#2a2a2a" style="stroke-width:0.1px">7</text>
<text x="46.04" y="404.84" font-size="8.2" text-anchor="end" fill="#2a2a2a">10</text>
<line x1="52.50" y1="388.36" x2="55.50" y2="388.36" stroke="#3a3a3a" stroke-width="1" />
<text x="49.30" y="390.16" font-size="4.6" text-anchor="end" fill="#2a2a2a" style="stroke-width:0.1px">8</text>
<text x="46.04" y="392.16" font-size="8.2" text-anchor="end" fill="#2a2a2a">10</text>
<line x1="52.50" y1="375.68" x2="55.50" y2="375.68" stroke="#3a3a3a" stroke-width="1" />
<text x="49.30" y="377.48" font-size="4.6" text-anchor="end" fill="#2a2a2a" style="stroke-width:0.1px">9</text>
<text x="46.04" y="379.48" font-size="8.2" text-anchor="end" fill="#2a2a2a">10</text>
<line x1="52.50" y1="363.00" x2="55.50" y2="363.00" stroke="#3a3a3a" stroke-width="1" />
<text x="49.30" y="364.80" font-size="4.6" text-anchor="end" fill="#2a2a2a" style="stroke-width:0.1px">10</text>
<text x="43.48" y="366.80" font-size="8.2" text-anchor="end" fill="#2a2a2a">10</text>
<line x1="52.50" y1="350.32" x2="55.50" y2="350.32" stroke="#3a3a3a" stroke-width="1" />
<text x="49.30" y="352.12" font-size="4.6" text-anchor="end" fill="#2a2a2a" style="stroke-width:0.1px">11</text>
<text x="43.48" y="354.12" font-size="8.2" text-anchor="end" fill="#2a2a2a">10</text>
<line x1="65.40" y1="426.40" x2="65.40" y2="429.00" stroke="#3a3a3a" stroke-width="1" />
<line x1="80.70" y1="426.40" x2="80.70" y2="429.00" stroke="#3a3a3a" stroke-width="1" />
<line x1="96.00" y1="426.40" x2="96.00" y2="429.00" stroke="#3a3a3a" stroke-width="1" />
<text transform="translate(67.80,434.60) rotate(-45)" font-size="7.9" text-anchor="end" fill="#2a2a2a">CART-38</text>
<text transform="translate(83.60,434.60) rotate(-45)" font-size="7.9" text-anchor="end" fill="#2a2a2a">CART-123</text>
<text transform="translate(99.00,434.60) rotate(-45)" font-size="7.9" text-anchor="end" fill="#2a2a2a">UTD</text>
<text transform="translate(28.9,384.9) rotate(-90)" font-size="8.6" text-anchor="middle" fill="#2a2a2a" textLength="46.5" lengthAdjust="spacingAndGlyphs" style="stroke-width:0.45px">Radiance p/sec</text>
<polyline points="65.40,391.20 65.40,331.80 95.80,331.80 95.80,336.40" fill="none" stroke="#3a3a3a" stroke-width="1" />
<polyline points="80.50,400.40 80.50,346.80 95.80,346.80 95.80,351.10" fill="none" stroke="#3a3a3a" stroke-width="1" />
<text x="80.70" y="331.00" font-size="8.2" text-anchor="middle" font-weight="normal" fill="#2a2a2a" style="stroke:none">****</text>
<text x="88.60" y="345.90" font-size="8.2" text-anchor="middle" font-weight="normal" fill="#2a2a2a" style="stroke:none">***</text>
<path d="M65.40,394.10 L67.40,398.00 L63.40,398.00 Z" fill="#30a03a"/>
<path d="M61.70,401.40 L63.70,405.30 L59.70,405.30 Z" fill="#30a03a"/>
<path d="M65.40,401.40 L67.40,405.30 L63.40,405.30 Z" fill="#30a03a"/>
<path d="M68.60,401.40 L70.60,405.30 L66.60,405.30 Z" fill="#30a03a"/>
<path d="M65.40,405.60 L67.40,409.50 L63.40,409.50 Z" fill="#30a03a"/>
<path d="M65.40,408.30 L67.40,412.20 L63.40,412.20 Z" fill="#30a03a"/>
<path d="M64.00,412.50 L66.00,416.40 L62.00,416.40 Z" fill="#30a03a"/>
<path d="M67.10,412.50 L69.10,416.40 L65.10,416.40 Z" fill="#30a03a"/>
<line x1="60.20" y1="404.20" x2="70.50" y2="404.20" stroke="#1f8a30" stroke-width="0.9" />
<path d="M80.50,402.50 L82.60,404.60 L80.50,406.70 L78.40,404.60 Z" fill="#c5102f"/>
<path d="M80.50,407.90 L82.60,410.00 L80.50,412.10 L78.40,410.00 Z" fill="#c5102f"/>
<path d="M78.20,411.40 L80.30,413.50 L78.20,415.60 L76.10,413.50 Z" fill="#c5102f"/>
<path d="M82.50,411.40 L84.60,413.50 L82.50,415.60 L80.40,413.50 Z" fill="#c5102f"/>
<path d="M77.80,413.70 L79.90,415.80 L77.80,417.90 L75.70,415.80 Z" fill="#c5102f"/>
<path d="M80.50,413.90 L82.60,416.00 L80.50,418.10 L78.40,416.00 Z" fill="#c5102f"/>
<path d="M83.60,413.70 L85.70,415.80 L83.60,417.90 L81.50,415.80 Z" fill="#c5102f"/>
<path d="M80.50,409.10 L82.60,411.20 L80.50,413.30 L78.40,411.20 Z" fill="#c5102f"/>
<line x1="75.20" y1="412.50" x2="85.50" y2="412.50" stroke="#333" stroke-width="0.9" />
<rect x="91.25" y="353.95" width="3.9" height="3.9" fill="#fff" stroke="#36339a" stroke-width="1.0"/>
<rect x="96.75" y="353.65" width="3.9" height="3.9" fill="#fff" stroke="#36339a" stroke-width="1.0"/>
<rect x="94.05" y="353.25" width="3.9" height="3.9" fill="#fff" stroke="#36339a" stroke-width="1.0"/>
<rect x="89.85" y="356.35" width="3.9" height="3.9" fill="#fff" stroke="#36339a" stroke-width="1.0"/>
<rect x="94.35" y="357.45" width="3.9" height="3.9" fill="#fff" stroke="#36339a" stroke-width="1.0"/>
<rect x="96.55" y="356.85" width="3.9" height="3.9" fill="#fff" stroke="#36339a" stroke-width="1.0"/>
<rect x="92.25" y="360.85" width="3.9" height="3.9" fill="#fff" stroke="#36339a" stroke-width="1.0"/>
<rect x="93.65" y="366.65" width="3.9" height="3.9" fill="#fff" stroke="#36339a" stroke-width="1.0"/>
<rect x="93.65" y="374.15" width="3.9" height="3.9" fill="#fff" stroke="#36339a" stroke-width="1.0"/>
<text x="193.40" y="335.10" font-size="11" text-anchor="start" font-weight="bold" fill="#111" >C</text>
<line x1="224.90" y1="340.40" x2="224.90" y2="459.60" stroke="#4a4a4a" stroke-width="1.8" />
<line x1="224.40" y1="459.00" x2="406.50" y2="459.00" stroke="#505050" stroke-width="1.8" />
<line x1="222.30" y1="458.80" x2="225.10" y2="458.80" stroke="#3a3a3a" stroke-width="1" />
<text x="219.30" y="461.70" font-size="8.4" text-anchor="end" font-weight="normal" fill="#2a2a2a" >0</text>
<line x1="222.30" y1="405.16" x2="225.10" y2="405.16" stroke="#3a3a3a" stroke-width="1" />
<text x="219.30" y="408.06" font-size="8.4" text-anchor="end" font-weight="normal" fill="#2a2a2a" >50</text>
<line x1="222.30" y1="351.51" x2="225.10" y2="351.51" stroke="#3a3a3a" stroke-width="1" />
<text x="219.30" y="354.41" font-size="8.4" text-anchor="end" font-weight="normal" fill="#2a2a2a" >100</text>
<line x1="225.10" y1="458.80" x2="225.10" y2="461.40" stroke="#3a3a3a" stroke-width="1" />
<text x="225.10" y="471.80" font-size="8.4" text-anchor="middle" font-weight="normal" fill="#2a2a2a" >0</text>
<line x1="269.18" y1="458.80" x2="269.18" y2="461.40" stroke="#3a3a3a" stroke-width="1" />
<text x="269.18" y="471.80" font-size="8.4" text-anchor="middle" font-weight="normal" fill="#2a2a2a" >100</text>
<line x1="313.26" y1="458.80" x2="313.26" y2="461.40" stroke="#3a3a3a" stroke-width="1" />
<text x="313.26" y="471.80" font-size="8.4" text-anchor="middle" font-weight="normal" fill="#2a2a2a" >200</text>
<line x1="357.34" y1="458.80" x2="357.34" y2="461.40" stroke="#3a3a3a" stroke-width="1" />
<text x="357.34" y="471.80" font-size="8.4" text-anchor="middle" font-weight="normal" fill="#2a2a2a" >300</text>
<line x1="401.42" y1="458.80" x2="401.42" y2="461.40" stroke="#3a3a3a" stroke-width="1" />
<text x="401.42" y="471.80" font-size="8.4" text-anchor="middle" font-weight="normal" fill="#2a2a2a" >400</text>
<text x="315.9" y="485.2" font-size="9" text-anchor="middle" fill="#2a2a2a" textLength="14.5" lengthAdjust="spacingAndGlyphs" style="stroke-width:0.45px">Days</text>
<text transform="translate(200.9,399.1) rotate(-90)" font-size="8.6" text-anchor="middle" fill="#2a2a2a" textLength="66" lengthAdjust="spacingAndGlyphs" style="stroke-width:0.45px">Probability of survival</text>
<polyline points="320.20,353.00 327.70,353.00 327.70,357.90 360.90,357.90" fill="none" stroke="#111" stroke-width="1.1" stroke-dasharray="1.2 1.6"/>
<polyline points="264.60,386.10 360.90,386.10" fill="none" stroke="#111" stroke-width="1.1" stroke-dasharray="1.2 1.6"/>
<polyline points="231.10,362.60 249.40,362.60 249.40,369.90 257.80,369.90 257.80,377.80 264.30,377.80 264.30,386.10" fill="none" stroke="#111" stroke-width="1.1" stroke-dasharray="1.2 1.6"/>
<polyline points="230.30,423.40 250.20,423.40 250.20,431.10 257.10,431.10 257.10,438.90 264.40,438.90 264.40,445.40 360.90,445.40" fill="none" stroke="#111" stroke-width="1.1" stroke-dasharray="1.2 1.6"/>
<polyline points="238.90,392.50 238.90,407.50 241.80,407.50 241.80,442.50" fill="none" stroke="#111" stroke-width="1.1" stroke-dasharray="1.2 1.6"/>
<polyline points="236.00,452.50 238.50,456.50" fill="none" stroke="#111" stroke-width="1.1" stroke-dasharray="1.2 1.6"/>
<polyline points="225.10,351.20 236.90,351.20 236.90,427.00 238.60,427.00 238.60,443.00 241.80,443.00 241.80,458.80" fill="none" stroke="#8577c4" stroke-width="1.4" />
<polyline points="225.10,351.20 319.60,351.20 319.60,364.50 327.50,364.50 327.50,377.60 360.90,377.60" fill="none" stroke="#bf3552" stroke-width="1.3" />
<line x1="360.90" y1="375.60" x2="360.90" y2="377.60" stroke="#bf3552" stroke-width="0.9" />
<polyline points="225.10,351.20 231.00,351.20 231.00,383.10 250.00,383.10 250.00,393.20 258.20,393.20 258.20,404.60 264.50,404.60 264.50,414.90 360.90,414.90" fill="none" stroke="#5cb85c" stroke-width="1.4" />
<line x1="327.70" y1="413.00" x2="327.70" y2="414.90" stroke="#5cb85c" stroke-width="0.9" />
<line x1="360.90" y1="413.00" x2="360.90" y2="414.90" stroke="#5cb85c" stroke-width="0.9" />
<line x1="384.30" y1="384.60" x2="398.50" y2="384.60" stroke="#55b055" stroke-width="1.0" />
<line x1="391.40" y1="382.60" x2="391.40" y2="384.60" stroke="#333" stroke-width="0.7" />
<text x="401.80" y="386.40" font-size="7.1" text-anchor="start" font-weight="normal" fill="#2a2a2a" >CART-38</text>
<line x1="384.30" y1="395.40" x2="398.50" y2="395.40" stroke="#cc5a72" stroke-width="1.8" />
<line x1="391.40" y1="393.40" x2="391.40" y2="395.40" stroke="#333" stroke-width="0.7" />
<text x="401.80" y="397.20" font-size="7.1" text-anchor="start" font-weight="normal" fill="#2a2a2a" >CART-123</text>
<line x1="384.30" y1="406.90" x2="398.50" y2="406.90" stroke="#5a55a0" stroke-width="1.0" />
<line x1="391.40" y1="404.90" x2="391.40" y2="406.90" stroke="#333" stroke-width="0.7" />
<text x="401.80" y="408.70" font-size="7.1" text-anchor="start" font-weight="normal" fill="#2a2a2a" >UTD</text>
</svg>
</body></html>
